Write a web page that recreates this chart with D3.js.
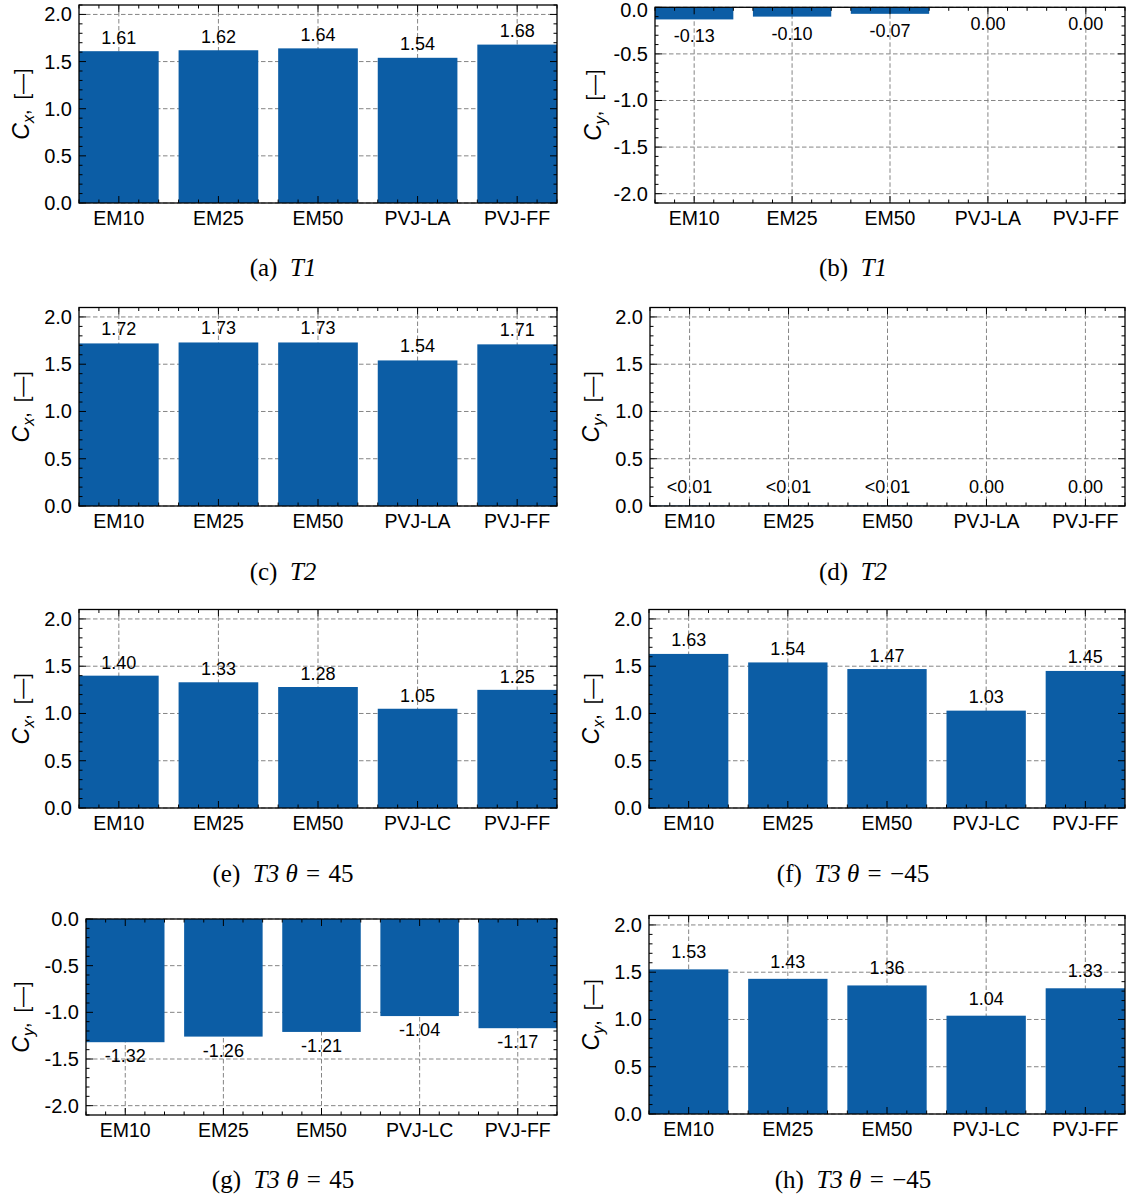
<!DOCTYPE html>
<html>
<head>
<meta charset="utf-8">
<script src="https://cdn.jsdelivr.net/npm/d3@7"></script>
<style>
  html, body { margin: 0; padding: 0; background: #fff; }
  svg { display: block; }
</style>
</head>
<body>
<svg id="fig" width="1127" height="1198"></svg>
<script>
// ---- data ----------------------------------------------------------------
const categoriesLA = ["EM10", "EM25", "EM50", "PVJ-LA", "PVJ-FF"];
const categoriesLC = ["EM10", "EM25", "EM50", "PVJ-LC", "PVJ-FF"];

const cxT1 = [1.61, 1.62, 1.64, 1.54, 1.68];
const cyT1 = [-0.13, -0.10, -0.07, 0.00, 0.00];
const cxT2 = [1.72, 1.73, 1.73, 1.54, 1.71];
const cyT2 = [0.004, 0.004, 0.004, 0.00, 0.00];
const cxT3pos = [1.40, 1.33, 1.28, 1.05, 1.25];
const cxT3neg = [1.63, 1.54, 1.47, 1.03, 1.45];
const cyT3pos = [-1.32, -1.26, -1.21, -1.04, -1.17];
const cyT3neg = [1.53, 1.43, 1.36, 1.04, 1.33];

const ticksPos = [0, 0.5, 1.0, 1.5, 2.0];
const ticksNeg = [-2.0, -1.5, -1.0, -0.5, 0];
const domainPos = [0, 2.1];
const domainNeg = [-2.1, 0];

// ---- panel layout ---------------------------------------------------------
const BLUE = "#0C5DA5";
const panels = [
  { id: "a", cats: categoriesLA, vals: cxT1, dom: domainPos, ticks: ticksPos, comp: "x",
    box: [79, 557, 5, 203], labelCol: 22, cap: ["(a)", "T1"], capY: 268, off: 7.5 },
  { id: "b", cats: categoriesLA, vals: cyT1, dom: domainNeg, ticks: ticksNeg, comp: "y",
    box: [655, 1125, 7.3, 203], labelCol: 594, cap: ["(b)", "T1"], capY: 268, off: 23 },
  { id: "c", cats: categoriesLA, vals: cxT2, dom: domainPos, ticks: ticksPos, comp: "x",
    box: [79, 557, 307.5, 506], labelCol: 22, cap: ["(c)", "T2"], capY: 572, off: 8.5 },
  { id: "d", cats: categoriesLA, vals: cyT2, dom: domainPos, ticks: ticksPos, comp: "y",
    box: [650, 1125, 307.5, 506], labelCol: 592, cap: ["(d)", "T2"], capY: 572, off: 13 },
  { id: "e", cats: categoriesLC, vals: cxT3pos, dom: domainPos, ticks: ticksPos, comp: "x",
    box: [79, 557, 609.5, 808], labelCol: 22, cap: ["(e)", "T3", "45"], capY: 874, off: 7 },
  { id: "f", cats: categoriesLC, vals: cxT3neg, dom: domainPos, ticks: ticksPos, comp: "x",
    box: [649, 1125, 609.5, 808], labelCol: 592, cap: ["(f)", "T3", "\u221245"], capY: 874, off: 7.5 },
  { id: "g", cats: categoriesLC, vals: cyT3pos, dom: domainNeg, ticks: ticksNeg, comp: "y",
    box: [86, 557, 919, 1115], labelCol: 22, cap: ["(g)", "T3", "45"], capY: 1180, off: 20 },
  { id: "h", cats: categoriesLC, vals: cyT3neg, dom: domainPos, ticks: ticksPos, comp: "y",
    box: [649, 1125, 915.5, 1114], labelCol: 592, cap: ["(h)", "T3", "\u221245"], capY: 1180, off: 11 }
];

const SANS = "'Liberation Sans', Arial, Helvetica, sans-serif";
const SERIF = "'Liberation Serif', 'Times New Roman', serif";
const svg = d3.select("#fig");

function fmtValue(v) {
  if (v !== 0 && Math.abs(v) < 0.01) return "<0.01";
  return v.toFixed(2);
}

panels.forEach(p => {
  const [x0, x1, y0, y1] = p.box;
  const g = svg.append("g").attr("class", "panel-" + p.id);

  // continuous x position: category index, with bars of width 0.8
  const x = d3.scaleLinear().domain([-0.4, p.cats.length - 0.6]).range([x0, x1]);
  const y = d3.scaleLinear().domain(p.dom).range([y1, y0]);

  // dashed grid at major ticks
  const grid = g.append("g").attr("stroke", "#858585").attr("stroke-width", 1)
    .attr("stroke-dasharray", "4.5,2.5");
  grid.selectAll("line.gy").data(p.ticks).join("line")
    .attr("x1", x0).attr("x2", x1)
    .attr("y1", d => y(d)).attr("y2", d => y(d));
  grid.selectAll("line.gx").data(p.cats.map((c, i) => i)).join("line")
    .attr("y1", y0).attr("y2", y1)
    .attr("x1", d => x(d)).attr("x2", d => x(d));

  // bars
  g.append("g").selectAll("rect").data(p.vals).join("rect")
    .attr("x", (d, i) => x(i - 0.4))
    .attr("width", (d, i) => x(i + 0.4) - x(i - 0.4))
    .attr("y", d => Math.min(y(d), y(0)))
    .attr("height", d => Math.abs(y(d) - y(0)))
    .attr("fill", BLUE);

  // value labels
  g.append("g").selectAll("text").data(p.vals).join("text")
    .attr("x", (d, i) => x(i))
    .attr("y", d => d < 0 || (d === 0 && p.dom[1] === 0) ? y(d) + p.off : y(d) - p.off)
    .attr("text-anchor", "middle")
    .attr("font-family", SANS).attr("font-size", 18)
    .text(d => fmtValue(d));

  // ticks on all four sides, pointing inward
  const minorX = d3.range(-0.4, p.cats.length - 0.6 + 1e-9, 0.2)
    .filter(v => Math.abs(v - Math.round(v)) > 1e-6);
  const minorY = d3.range(p.dom[0], p.dom[1] + 1e-9, 0.1)
    .filter(v => Math.abs(v * 2 - Math.round(v * 2)) > 1e-6);
  const tk = g.append("g").attr("stroke", "#000").attr("stroke-width", 1);
  const MAJ = 7, MIN = 3.5;
  p.cats.forEach((c, i) => {
    tk.append("line").attr("x1", x(i)).attr("x2", x(i)).attr("y1", y1).attr("y2", y1 - MAJ);
    tk.append("line").attr("x1", x(i)).attr("x2", x(i)).attr("y1", y0).attr("y2", y0 + MAJ);
  });
  minorX.forEach(v => {
    tk.append("line").attr("x1", x(v)).attr("x2", x(v)).attr("y1", y1).attr("y2", y1 - MIN);
    tk.append("line").attr("x1", x(v)).attr("x2", x(v)).attr("y1", y0).attr("y2", y0 + MIN);
  });
  p.ticks.forEach(v => {
    tk.append("line").attr("x1", x0).attr("x2", x0 + MAJ).attr("y1", y(v)).attr("y2", y(v));
    tk.append("line").attr("x1", x1).attr("x2", x1 - MAJ).attr("y1", y(v)).attr("y2", y(v));
  });
  minorY.forEach(v => {
    tk.append("line").attr("x1", x0).attr("x2", x0 + MIN).attr("y1", y(v)).attr("y2", y(v));
    tk.append("line").attr("x1", x1).attr("x2", x1 - MIN).attr("y1", y(v)).attr("y2", y(v));
  });

  // frame
  g.append("rect").attr("x", x0).attr("y", y0)
    .attr("width", x1 - x0).attr("height", y1 - y0)
    .attr("fill", "none").attr("stroke", "#000").attr("stroke-width", 1.3);

  // axis tick labels
  g.append("g").selectAll("text").data(p.cats).join("text")
    .attr("x", (d, i) => x(i)).attr("y", y1 + 22)
    .attr("text-anchor", "middle")
    .attr("font-family", SANS).attr("font-size", 19.5)
    .text(d => d);
  g.append("g").selectAll("text").data(p.ticks).join("text")
    .attr("x", x0 - 7).attr("y", d => Math.max(y(d), 9.5)).attr("dy", "0.35em")
    .attr("text-anchor", "end")
    .attr("font-family", SANS).attr("font-size", 20)
    .text(d => d.toFixed(1));

  // y-axis title: C_x or C_y, [−]
  const yt = g.append("text")
    .attr("transform", `translate(${p.labelCol},${(y0 + y1) / 2}) rotate(-90)`)
    .attr("text-anchor", "middle").attr("dy", "0.35em")
    .attr("font-family", SANS).attr("font-size", 20);
  yt.append("tspan").attr("font-style", "italic").attr("font-size", 23).text("C");
  yt.append("tspan").attr("font-style", "italic").attr("font-size", 16)
    .attr("dy", 5).text(p.comp);
  yt.append("tspan").attr("dy", -5).text(",\u2002[\u2014]");

  // caption
  const cx = (x0 < 400) ? 283 : 853;
  const ct = svg.append("text").attr("x", cx).attr("y", p.capY + 8)
    .attr("text-anchor", "middle")
    .attr("font-family", SERIF).attr("font-size", 25);
  ct.append("tspan").text(p.cap[0] + "\u2002");
  ct.append("tspan").attr("font-style", "italic").text(p.cap[1]);
  if (p.cap.length > 2) {
    ct.append("tspan").attr("font-style", "italic").text(" \u03b8");
    ct.append("tspan").text("\u2004=\u2004" + p.cap[2]);
  }
});
</script>
</body>
</html>
